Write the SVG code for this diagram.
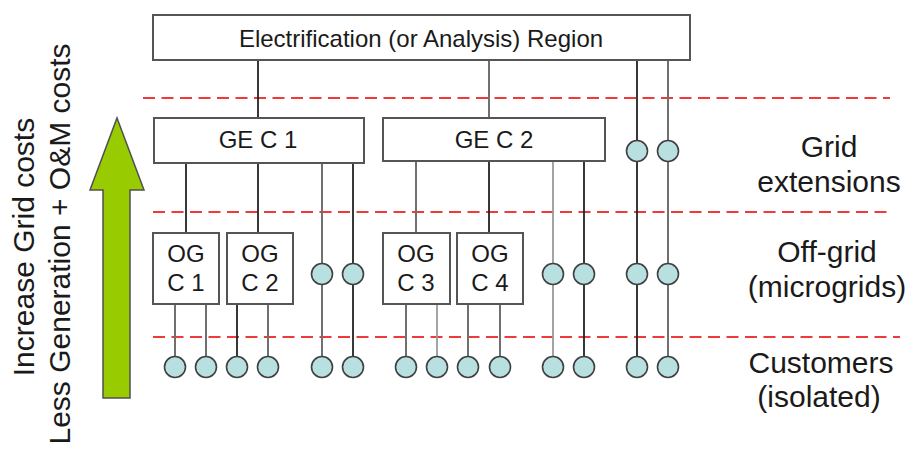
<svg xmlns="http://www.w3.org/2000/svg" width="913" height="450" viewBox="0 0 913 450">
<style>
text{font-family:"Liberation Sans",Arial,sans-serif;fill:#1a1a1a}
.box{fill:#fff;stroke:#555;stroke-width:2}
.t24{font-size:24px;text-anchor:middle}
.t30{font-size:30px;text-anchor:middle}
.dash{stroke:#f03a3a;stroke-width:2.2;stroke-dasharray:12 6.5;fill:none}
.k{stroke:#222;stroke-width:1.8}
.g{stroke:#707070;stroke-width:2}
.l{stroke:#9a9a9a;stroke-width:1.8}
.c{fill:#b8e0e0;stroke:#404040;stroke-width:1.6}
</style>
<rect width="913" height="450" fill="#fff"/>
<g id="dashes">
<line class="dash" x1="143" y1="98" x2="890" y2="98"/>
<line class="dash" x1="153" y1="212" x2="890" y2="212"/>
<line class="dash" x1="153" y1="337" x2="900" y2="337"/>
</g>
<g id="connectors">
<line class="k" x1="258" y1="60" x2="258" y2="118"/>
<line class="g" x1="489" y1="60" x2="489" y2="118"/>
<line class="k" x1="637" y1="60" x2="637" y2="367"/>
<line class="g" x1="668" y1="60" x2="668" y2="367"/>
<line class="k" x1="186" y1="163" x2="186" y2="233"/>
<line class="k" x1="258" y1="163" x2="258" y2="233"/>
<line class="g" x1="322" y1="163" x2="322" y2="367"/>
<line class="k" x1="353" y1="163" x2="353" y2="367"/>
<line class="g" x1="416" y1="161" x2="416" y2="233"/>
<line class="k" x1="489" y1="161" x2="489" y2="233"/>
<line class="l" x1="553" y1="161" x2="553" y2="367"/>
<line class="k" x1="584" y1="161" x2="584" y2="367"/>
<line class="g" x1="175" y1="304" x2="175" y2="367"/>
<line class="g" x1="206" y1="304" x2="206" y2="367"/>
<line class="k" x1="237" y1="304" x2="237" y2="367"/>
<line class="g" x1="268" y1="304" x2="268" y2="367"/>
<line class="g" x1="406" y1="304" x2="406" y2="367" stroke-width="2.6"/>
<line class="l" x1="437" y1="304" x2="437" y2="367"/>
<line class="g" x1="468" y1="304" x2="468" y2="367"/>
<line class="g" x1="500" y1="304" x2="500" y2="367"/>
</g>
<g id="region">
<rect class="box" x="153" y="15" width="537" height="45"/>
<text class="t24" x="421" y="47">Electrification (or Analysis) Region</text>
</g>
<g id="gec1">
<rect class="box" x="154" y="118" width="210" height="45"/>
<text class="t24" x="258" y="148">GE C 1</text>
</g>
<g id="gec2">
<rect class="box" x="383" y="118" width="222" height="43"/>
<text class="t24" x="494" y="148">GE C 2</text>
</g>
<g id="ogc1">
<rect class="box" x="153" y="233" width="66" height="71"/>
<text class="t24" x="186" y="262">OG</text>
<text class="t24" x="186" y="291">C 1</text>
</g>
<g id="ogc2">
<rect class="box" x="227" y="233" width="66" height="71"/>
<text class="t24" x="260" y="262">OG</text>
<text class="t24" x="260" y="291">C 2</text>
</g>
<g id="ogc3">
<rect class="box" x="383" y="233" width="67" height="71"/>
<text class="t24" x="416" y="262">OG</text>
<text class="t24" x="416" y="291">C 3</text>
</g>
<g id="ogc4">
<rect class="box" x="457" y="233" width="66" height="71"/>
<text class="t24" x="490" y="262">OG</text>
<text class="t24" x="490" y="291">C 4</text>
</g>
<g id="grid-circles">
<circle class="c" cx="637" cy="151" r="10.5"/>
<circle class="c" cx="668" cy="151" r="10.5"/>
</g>
<g id="offgrid-circles">
<circle class="c" cx="322" cy="274" r="10.5"/>
<circle class="c" cx="353" cy="274" r="10.5"/>
<circle class="c" cx="553" cy="274" r="10.5"/>
<circle class="c" cx="584" cy="274" r="10.5"/>
<circle class="c" cx="637" cy="274" r="10.5"/>
<circle class="c" cx="668" cy="274" r="10.5"/>
</g>
<g id="customers">
<circle class="c" cx="175" cy="367" r="10.5"/>
<circle class="c" cx="206" cy="367" r="10.5"/>
<circle class="c" cx="237" cy="367" r="10.5"/>
<circle class="c" cx="268" cy="367" r="10.5"/>
<circle class="c" cx="322" cy="367" r="10.5"/>
<circle class="c" cx="353" cy="367" r="10.5"/>
<circle class="c" cx="406" cy="367" r="10.5"/>
<circle class="c" cx="437" cy="367" r="10.5"/>
<circle class="c" cx="468" cy="367" r="10.5"/>
<circle class="c" cx="500" cy="367" r="10.5"/>
<circle class="c" cx="553" cy="367" r="10.5"/>
<circle class="c" cx="584" cy="367" r="10.5"/>
<circle class="c" cx="637" cy="367" r="10.5"/>
<circle class="c" cx="668" cy="367" r="10.5"/>
</g>
<g id="arrow">
<polygon points="117,118 144,190 130,190 130,398 103,398 103,190 90,190" fill="#99cc00" stroke="#505050" stroke-width="1.5" stroke-linejoin="miter"/>
</g>
<g id="axis-labels">
<text class="t30" transform="translate(34,247) rotate(-90)">Increase Grid costs</text>
<text class="t30" transform="translate(70,244) rotate(-90)">Less Generation + O&amp;M costs</text>
</g>
<g id="level-labels">
<text class="t30" x="829" y="157">Grid</text>
<text class="t30" x="829" y="192">extensions</text>
<text class="t30" x="827" y="262">Off-grid</text>
<text class="t30" x="827" y="297">(microgrids)</text>
<text class="t30" x="821" y="373">Customers</text>
<text class="t30" x="819" y="407">(isolated)</text>
</g>
</svg>
